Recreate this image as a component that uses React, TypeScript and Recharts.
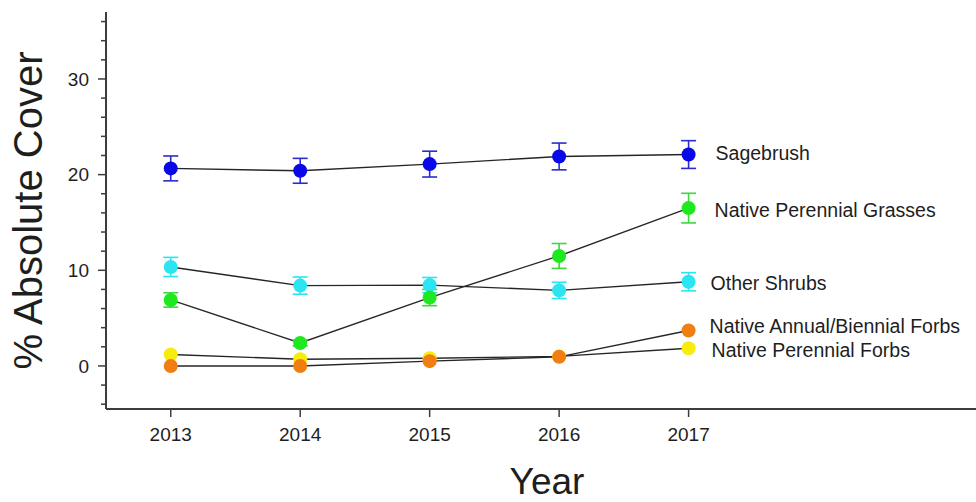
import React from 'react';
import { LineChart, Line, XAxis, YAxis, ErrorBar, LabelList } from 'recharts';

const years = [2013, 2014, 2015, 2016, 2017];
const sagebrush = [20.65, 20.4, 21.1, 21.9, 22.1];
const sagebrushErr = [1.3, 1.3, 1.35, 1.4, 1.45];
const perennialGrasses = [6.9, 2.4, 7.15, 11.5, 16.5];
const perennialGrassesErr = [0.75, 0.3, 0.85, 1.3, 1.55];
const otherShrubs = [10.35, 8.4, 8.45, 7.9, 8.8];
const otherShrubsErr = [1.0, 0.9, 0.8, 0.85, 0.95];
const annualForbs = [0.0, 0.0, 0.5, 0.95, 3.7];
const perennialForbs = [1.2, 0.7, 0.8, 1.0, 1.85];

const yTicks = [-4, -2, 0, 2, 4, 6, 8, 10, 12, 14, 16, 18, 20, 22, 24, 26, 28, 30, 32, 34, 36];

const data = years.map((year, i) => ({
  year,
  sagebrush: sagebrush[i],
  sagebrushErr: sagebrushErr[i],
  perennialGrasses: perennialGrasses[i],
  perennialGrassesErr: perennialGrassesErr[i],
  otherShrubs: otherShrubs[i],
  otherShrubsErr: otherShrubsErr[i],
  annualForbs: annualForbs[i],
  perennialForbs: perennialForbs[i],
}));

type Series = {
  key: string;
  name: string;
  color: string;
  errColor: string;
  err?: string;
  dx: number;
  dy: number;
};

// drawing order: later ones on top
const series: Series[] = [
  { key: 'perennialForbs', name: 'Native Perennial Forbs', color: '#F7EC0C', errColor: '#F7EC0C', dx: 23, dy: 9 },
  { key: 'annualForbs', name: 'Native Annual/Biennial Forbs', color: '#F07E12', errColor: '#F07E12', dx: 21, dy: 2.6 },
  { key: 'otherShrubs', name: 'Other Shrubs', color: '#2BE6F2', errColor: '#2BE6F2', err: 'otherShrubsErr', dx: 22, dy: 8.3 },
  { key: 'perennialGrasses', name: 'Native Perennial Grasses', color: '#1EE81E', errColor: '#3CD83C', err: 'perennialGrassesErr', dx: 26, dy: 9 },
  { key: 'sagebrush', name: 'Sagebrush', color: '#0808E8', errColor: '#2A2AD0', err: 'sagebrushErr', dx: 27, dy: 5.6 },
];

const FONT = '"Liberation Sans", Arial, Helvetica, sans-serif';
const AXIS = '#3c3c3c';
const TEXT = '#1e1e1e';

const YTick = (props: any) => {
  const { x, y, payload } = props;
  const major = payload.value % 10 === 0;
  return (
    <g>
      <line x1={x - (major ? 8 : 5)} x2={x} y1={y} y2={y} stroke={AXIS} strokeWidth={1.5} />
      {major && (
        <text x={x - 17} y={y + 6.8} textAnchor="end" fontSize={19} fontFamily={FONT} fill={TEXT}>
          {payload.value}
        </text>
      )}
    </g>
  );
};

const makeLabel = (s: Series) => (props: any) => {
  const { index } = props;
  if (index !== years.length - 1) return null;
  const px = props.x ?? props.viewBox?.x;
  const py = props.y ?? props.viewBox?.y;
  return (
    <text x={px + s.dx} y={py + s.dy} fontSize={19.5} fontFamily={FONT} fill={TEXT}>
      {s.name}
    </text>
  );
};

export default function App() {
  return (
    <div style={{ position: 'absolute', left: 0, top: 0, width: 976, height: 502, background: '#fff' }}>
      <LineChart
        width={976}
        height={502}
        data={data}
        margin={{ top: 12, right: 0, bottom: 0, left: 0 }}
      >
        <XAxis
          dataKey="year"
          type="number"
          domain={[2012.5, 2019.22]}
          allowDataOverflow
          ticks={years}
          height={93}
          tickSize={8}
          tickMargin={11}
          axisLine={{ stroke: AXIS, strokeWidth: 2 }}
          tickLine={{ stroke: AXIS, strokeWidth: 1.5 }}
          tick={{ fill: TEXT, fontSize: 19, fontFamily: FONT }}
          label={{
            content: (p: any) => {
              const vb = p.viewBox;
              return (
                <text x={vb.x + vb.width / 2 + 6} y={vb.y + 85} textAnchor="middle" fontSize={37} fontFamily={FONT} fill={TEXT}>
                  Year
                </text>
              );
            },
          }}
        />
        <XAxis
          xAxisId="top"
          orientation="top"
          dataKey="year"
          type="number"
          domain={[2012.5, 2019.22]}
          allowDataOverflow
          height={0}
          tick={false}
          tickLine={false}
          axisLine={{ stroke: AXIS, strokeWidth: 2 }}
        />
        <YAxis
          type="number"
          domain={[-4.5, 37]}
          allowDataOverflow
          ticks={yTicks}
          interval={0}
          width={106}
          tickSize={0}
          tickMargin={0}
          tickLine={false}
          axisLine={{ stroke: AXIS, strokeWidth: 2 }}
          tick={<YTick />}
          label={{
            content: (p: any) => {
              const vb = p.viewBox;
              const cx = vb.x + 28;
              const cy = vb.y + vb.height / 2;
              return (
                <text
                  x={cx}
                  y={cy}
                  transform={`rotate(-90 ${cx} ${cy})`}
                  textAnchor="middle"
                  dominantBaseline="central"
                  fontSize={40}
                  fontFamily={FONT}
                  fill={TEXT}
                >
                  % Absolute Cover
                </text>
              );
            },
          }}
        />
        {series.map((s) => (
          <Line
            key={`line-${s.key}`}
            dataKey={s.key}
            stroke="#262626"
            strokeWidth={1.4}
            dot={false}
            activeDot={false}
            isAnimationActive={false}
          />
        ))}
        {series.map((s) => (
          <Line
            key={`dots-${s.key}`}
            dataKey={s.key}
            stroke="none"
            dot={{ r: 7, fill: s.color, stroke: s.color, strokeWidth: 0 }}
            activeDot={false}
            isAnimationActive={false}
          >
            {s.err && (
              <ErrorBar dataKey={s.err} width={7.5} stroke={s.errColor} strokeWidth={1.6} direction="y" />
            )}
            <LabelList dataKey={s.key} content={makeLabel(s)} />
          </Line>
        ))}
      </LineChart>
    </div>
  );
}
